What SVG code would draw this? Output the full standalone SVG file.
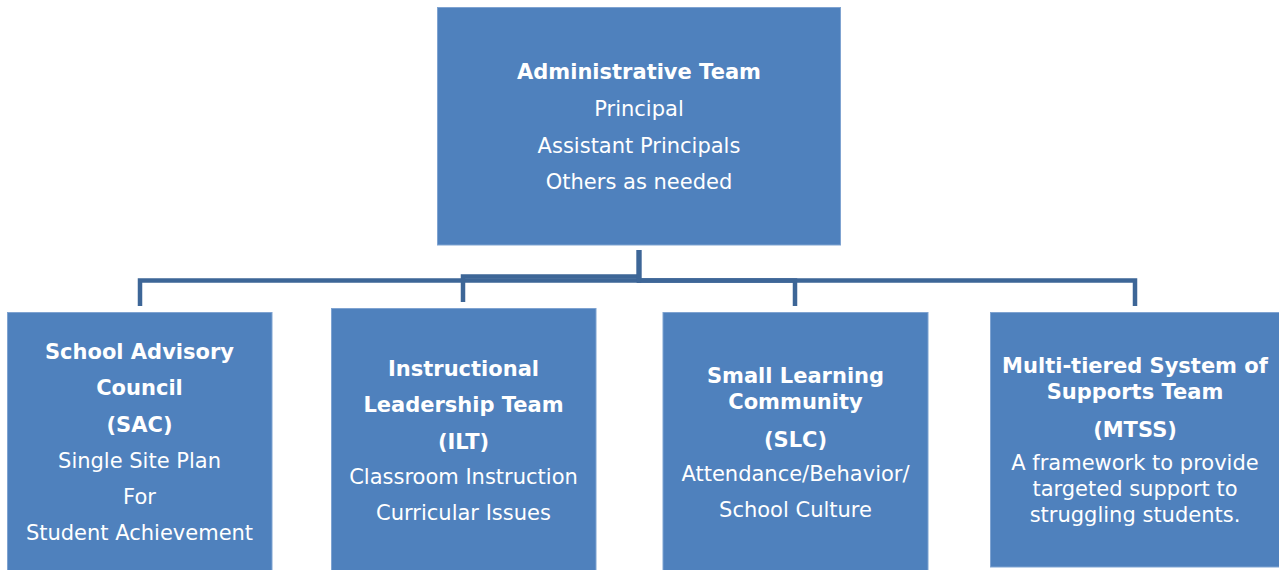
<svg xmlns="http://www.w3.org/2000/svg" width="1279" height="570" viewBox="0 0 1279 570">
<style>
.box{fill:#4F81BD;stroke:#7FA3D1;stroke-width:1}
.t{font-family:"DejaVu Sans","Verdana",sans-serif;font-size:21px;fill:#FFFFFF;text-anchor:middle}
.b{font-weight:bold}
.c{fill:none;stroke:#3D6697;stroke-width:4.5;stroke-linejoin:miter}
</style>
<rect width="1279" height="570" fill="#FFFFFF"/>
<g id="connectors">
<path class="c" d="M639,250 V280.5 H140 V306"/>
<path class="c" d="M639,250 V276.5 H463 V302"/>
<path class="c" d="M639,250 V280.5 H795 V306"/>
<path class="c" d="M639,250 V280.5 H1135 V306"/>
</g>
<g id="admin">
<rect class="box" x="437.5" y="7.5" width="403" height="237.5"/>
<text class="t b" x="639" y="79">Administrative Team</text>
<text class="t" x="639" y="116">Principal</text>
<text class="t" x="639" y="152.5">Assistant Principals</text>
<text class="t" x="639" y="188.5">Others as needed</text>
</g>
<g id="sac">
<rect class="box" x="7.5" y="312.5" width="264.5" height="260"/>
<text class="t b" x="139.5" y="359">School Advisory</text>
<text class="t b" x="139.5" y="395">Council</text>
<text class="t b" x="139.5" y="431.5">(SAC)</text>
<text class="t" x="139.5" y="468">Single Site Plan</text>
<text class="t" x="139.5" y="504">For</text>
<text class="t" x="139.5" y="540">Student Achievement</text>
</g>
<g id="ilt">
<rect class="box" x="331.5" y="308.5" width="264.5" height="264"/>
<text class="t b" x="463.5" y="376">Instructional</text>
<text class="t b" x="463.5" y="412">Leadership Team</text>
<text class="t b" x="463.5" y="448.5">(ILT)</text>
<text class="t" x="463.5" y="484">Classroom Instruction</text>
<text class="t" x="463.5" y="520">Curricular Issues</text>
</g>
<g id="slc">
<rect class="box" x="663" y="312.5" width="265" height="260"/>
<text class="t b" x="795.5" y="383">Small Learning</text>
<text class="t b" x="795.5" y="409">Community</text>
<text class="t b" x="795.5" y="446.5">(SLC)</text>
<text class="t" x="795.5" y="481">Attendance/Behavior/</text>
<text class="t" x="795.5" y="517">School Culture</text>
</g>
<g id="mtss">
<rect class="box" x="990.5" y="312.5" width="290" height="254.5"/>
<text class="t b" x="1135" y="373">Multi-tiered System of</text>
<text class="t b" x="1135" y="399">Supports Team</text>
<text class="t b" x="1135" y="436.5">(MTSS)</text>
<text class="t" x="1135" y="470">A framework to provide</text>
<text class="t" x="1135" y="496">targeted support to</text>
<text class="t" x="1135" y="522">struggling students.</text>
</g>
</svg>
